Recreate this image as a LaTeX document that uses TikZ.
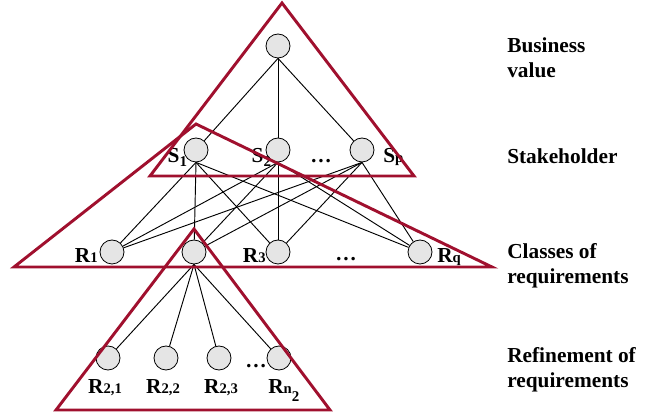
\documentclass[tikz,border=0pt]{standalone}
\usepackage{amsmath}
\usepackage{fontspec}
\setmainfont{Liberation Serif}
\usepackage{tikz}
\definecolor{darkred}{RGB}{160,16,46}
\newcommand{\smallidx}[1]{{\fontsize{11}{12}\selectfont #1}}

\begin{document}
\begin{tikzpicture}[x=0.75pt,y=-0.75pt,
	vertex/.style={shape=circle,draw=black,line width=0.6pt,fill=black!10,minimum size=18pt,inner sep=0pt},
	lbl/.style={font=\fontsize{16}{19}\selectfont\bfseries,inner sep=0pt},
	link/.style={-,line width=0.7pt},
	tri/.style={draw=darkred,line width=2.2pt,line join=miter}]
	
	\useasboundingbox (0,0) rectangle (647,413);
	
	\node[vertex] (v)   at (278, 46)  {};
	\node[vertex] (s1)  at (196, 150) {};
	\node[vertex] (s2)  at (278, 150) {};
	\node[vertex] (sp)  at (362, 150) {};
	\node[vertex] (r1)  at (112, 252) {};
	\node[vertex] (r2)  at (194, 252) {};
	\node[vertex] (r3)  at (278, 252) {};
	\node[vertex] (rq)  at (420, 252) {};
	\node[vertex] (r21) at (108, 358) {};
	\node[vertex] (r22) at (166, 358) {};
	\node[vertex] (r23) at (219, 358) {};
	\node[vertex] (rn)  at (279, 358) {};
	
	\node[lbl,anchor=base east] (s1l)  at (188, 163) {S\textsubscript{1}};
	\node[lbl,anchor=base east] (s2l)  at (272, 163) {S\textsubscript{2}};
	\node[lbl,anchor=base west] (spl)  at (383, 163) {S\smallidx{p}};
	\node[lbl] (sdots) at (321, 161) {\dots};
	\node[lbl,anchor=base east] (r1l)  at (98, 263)  {R\smallidx{1}};
	\node[lbl,anchor=base east] (r3l)  at (266, 263) {R\smallidx{3}};
	\node[lbl,anchor=base west] (rql)  at (437, 263) {R\smallidx{q}};
	\node[lbl] (rdots) at (346, 259) {\dots};
	\node[lbl,anchor=base] (r21l) at (105, 394) {R\smallidx{2,1}};
	\node[lbl,anchor=base] (r22l) at (163, 394) {R\smallidx{2,2}};
	\node[lbl,anchor=base] (r23l) at (221, 394) {R\smallidx{2,3}};
	\node[lbl,anchor=base west] (rnl) at (268, 394) {R\smallidx{n}\textsubscript{\raisebox{-3pt}{2}}};
	\node[lbl] (bdots) at (256, 366) {\dots};
	
	\node[lbl,anchor=west,align=left] (busl) at (507, 58)  {Business\\value};
	\node[lbl,anchor=west,align=left] (stkl) at (507, 156) {Stakeholder};
	\node[lbl,anchor=west,align=left] (clsl) at (507, 266) {Classes of\\requirements};
	\node[lbl,anchor=west,align=left] (refl) at (507, 370) {Refinement of\\requirements};
	
	\path[link] (v.south) edge (s1);
	\path[link] (v.south) edge (s2);
	\path[link] (v.south) edge (sp);
	
	\path[link] (s1.south) edge (r1);
	\path[link] (s1.south) edge (r2);
	\path[link] (s1.south) edge (r3);
	\path[link] (s1.south) edge (rq);
	\path[link] (s2.south) edge (r1);
	\path[link] (s2.south) edge (r2);
	\path[link] (s2.south) edge (r3);
	\path[link] (s2.south) edge (rq);
	\path[link] (sp.south) edge (r1);
	\path[link] (sp.south) edge (r2);
	\path[link] (sp.south) edge (r3);
	\path[link] (sp.south) edge (rq);
	
	\path[link] (r2.south) edge (r21);
	\path[link] (r2.south) edge (r22);
	\path[link] (r2.south) edge (r23);
	\path[link] (r2.south) edge (rn);
	
	% layers
	\draw[tri] (282, 3)   -- (150, 176) -- (414, 176) -- cycle;
	\draw[tri] (196, 124) -- (14, 267)  -- (492, 267) -- cycle;
	\draw[tri] (194, 229) -- (56, 410)  -- (330, 410) -- cycle;
	
\end{tikzpicture}
\end{document}
